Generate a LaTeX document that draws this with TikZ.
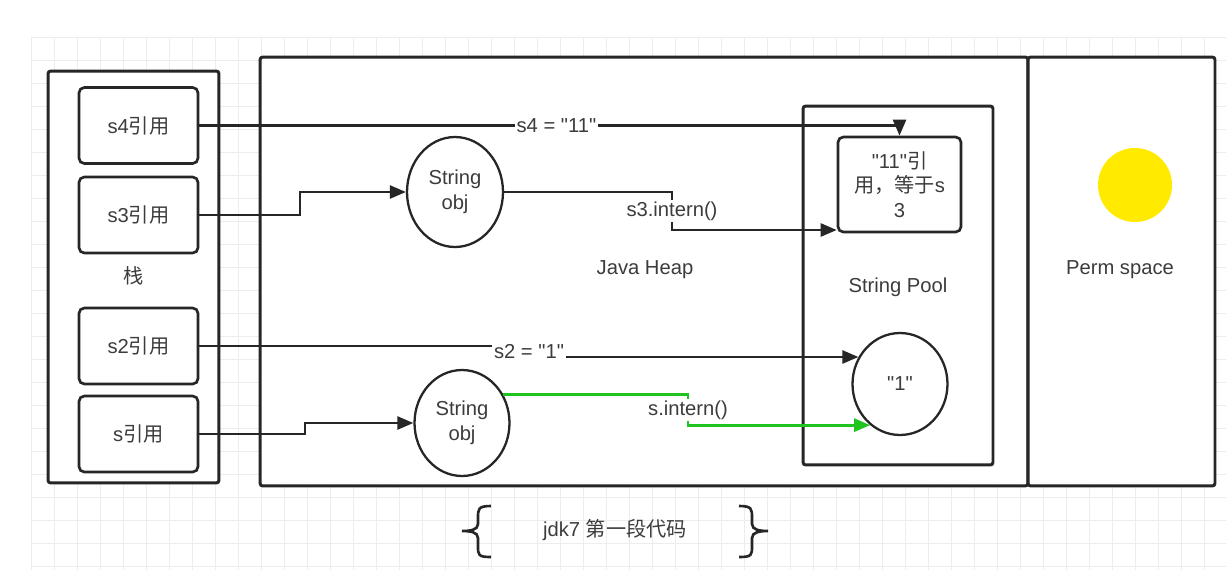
\documentclass[tikz,border=0pt]{standalone}
\usepackage{fontspec}
\setmainfont{Liberation Sans}[Ligatures=TeXOff]
\newfontfamily\cjk{Noto Sans CJK SC}
\usepackage{tikz}
\usetikzlibrary{arrows.meta,positioning,shapes.geometric}
\definecolor{ink}{HTML}{262626}
\definecolor{txt}{HTML}{3C3C3C}
\definecolor{gridc}{HTML}{EDEDED}
\definecolor{intern}{HTML}{1FC41F}
\definecolor{hilite}{HTML}{FFEA00}

\begin{document}
\begin{tikzpicture}[x=0.02cm, y=-0.02cm,
    every node/.style={font=\fontsize{11.5}{14}\selectfont, text=txt},
    gridline/.style={gridc, line width=0.5pt},
    area/.style={draw=ink, line width=1.7pt, fill=white, rounded corners=1.5pt, inner sep=0pt},
    refbox/.style={draw=ink, line width=1.5pt, fill=white, rounded corners=3pt,
                   minimum width=2.38cm, minimum height=1.52cm, align=center},
    obj/.style={draw=ink, line width=1.3pt, fill=white, ellipse, inner sep=0pt, align=center},
    lbl/.style={fill=white, inner sep=1pt},
    arr/.style={-{Triangle[length=3.2mm, width=2.6mm]}, line width=1.4pt, draw=ink},
    garr/.style={arr, line width=1.6pt, draw=intern}]
    \useasboundingbox (0,0) rectangle (1226,585);
    \fill[white] (0,0) rectangle (1226,585);
    % faint paper grid
    \foreach \gx in {31,54,...,1226} \draw[gridline] (\gx,37) -- (\gx,570);
    \foreach \gy in {37,60,...,570} \draw[gridline] (31,\gy) -- (1226,\gy);

    % memory areas
    \node[area, minimum width=3.42cm, minimum height=8.24cm] (stack) at (133.5,277) {};
    \node[area, minimum width=15.36cm, minimum height=8.58cm] (heap) at (644,271.5) {};
    \node[area, minimum width=3.74cm, minimum height=8.58cm] (perm) at (1121.5,271.5) {};
    \node[area, minimum width=3.8cm, minimum height=7.18cm] (pool) at (898,285.5) {};
    \node (stacklbl) at (134,276) {\cjk 栈};
    \node (heaplbl) at (645,270) {Java Heap};
    \node (poollbl) at (898,287) {String Pool};
    \node (permlbl) at (1120,270) {Perm space};
    \fill[hilite] (1135,185) circle[radius=37];

    % references on the stack
    \node[refbox] (s4ref) at (138.5,125.5) {s4{\cjk 引用}};
    \node[refbox] (s3ref) at (138.5,215) {s3{\cjk 引用}};
    \node[refbox] (s2ref) at (138.5,346) {s2{\cjk 引用}};
    \node[refbox] (sref) at (138.5,434) {s{\cjk 引用}};

    % objects
    \node[obj, minimum width=1.92cm, minimum height=2.2cm] (obj3) at (455,192) {String\\obj};
    \node[obj, minimum width=1.9cm, minimum height=2.12cm] (obj1) at (462,423) {String\\obj};
    \node[refbox, minimum width=2.46cm, minimum height=1.9cm] (lit11) at (899.5,184.5)
        {"11"{\cjk 引}\\{\cjk 用，等于}s\\3};
    \node[obj, minimum width=1.9cm, minimum height=2.04cm] (lit1) at (900,384) {"1"};

    \draw[arr] (s4ref.east) -| node[lbl, pos=0.255] {s4 = "11"} (lit11.north);
    \draw[arr] (s3ref.east) -- (300,215) |- (obj3.west);
    \draw[arr] (obj3.east) -- (672,192) -- node[lbl] {s3.intern()} (672,230) -- (lit11.west |- 0,230);
    \draw[arr] (s2ref.east) -- (529,346) |- node[lbl, pos=0.25] {s2 = "1"} (lit1.147);
    \draw[arr] (sref.east) -- (305,434) |- (obj1.west);
    \draw[garr] (obj1.35) -| (688,410) |- (lit1.234);
    \node[lbl] (slbl) at (688,410) {s.intern()};

    % caption in braces
    \draw[ink, line width=1.5pt] (491,506) .. controls (478,506) and (478,509) .. (478,518) -- (478,524)
        .. controls (478,530) and (470,531) .. (462,531) .. controls (470,531) and (478,532) .. (478,538)
        -- (478,546) .. controls (478,555) and (478,557) .. (491,557);
    \draw[ink, line width=1.5pt] (739,506) .. controls (752,506) and (752,509) .. (752,518) -- (752,524)
        .. controls (752,530) and (760,531) .. (768,531) .. controls (760,531) and (752,532) .. (752,538)
        -- (752,546) .. controls (752,555) and (752,557) .. (739,557);
    \node (caption) at (615,530) {jdk7 {\cjk 第一段代码}};
\end{tikzpicture}
\end{document}
